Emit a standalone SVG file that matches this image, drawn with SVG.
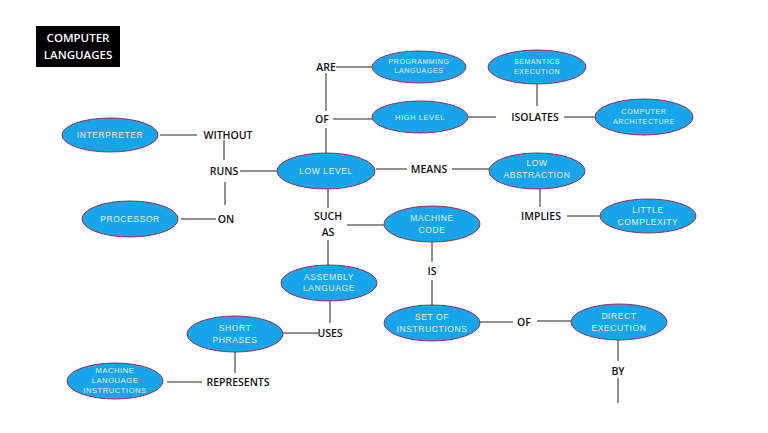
<svg xmlns="http://www.w3.org/2000/svg" width="768" height="433" viewBox="0 0 768 433">
<style>
.n ellipse{fill:#16a5ea;stroke:#9a3050;stroke-width:1}
.n text{font-family:"Liberation Sans",Arial,sans-serif;font-size:7.5px;fill:#e8f0ff;text-anchor:middle;letter-spacing:0.6px}
.w text,text.w{font-family:"Open Sans","Liberation Sans",sans-serif;font-size:10.5px;font-weight:600;fill:#111;text-anchor:middle}
#edges line{stroke:#222;stroke-width:1}
</style>
<rect width="768" height="433" fill="#fff"/>
<g id="title">
<rect x="36" y="26" width="84" height="41" fill="#000"/>
<text x="78" y="42" font-family="'Open Sans','Liberation Sans',sans-serif" font-size="11.5" font-weight="600" fill="#fff" text-anchor="middle">COMPUTER</text>
<text x="78" y="59" font-family="'Open Sans','Liberation Sans',sans-serif" font-size="11.5" font-weight="600" fill="#fff" text-anchor="middle">LANGUAGES</text>
</g>
<g id="edges">
<line x1="336" y1="67" x2="372" y2="67"/>
<line x1="326" y1="73" x2="326" y2="111"/>
<line x1="333" y1="119" x2="372" y2="119"/>
<line x1="326" y1="128" x2="326" y2="153"/>
<line x1="468" y1="117" x2="496" y2="117"/>
<line x1="537" y1="84" x2="537" y2="106"/>
<line x1="564" y1="117" x2="595" y2="117"/>
<line x1="160" y1="135" x2="197" y2="135"/>
<line x1="224" y1="140" x2="224" y2="160"/>
<line x1="240" y1="171" x2="277" y2="171"/>
<line x1="225" y1="182" x2="225" y2="205"/>
<line x1="181" y1="219" x2="216" y2="219"/>
<line x1="376" y1="169" x2="407" y2="169"/>
<line x1="452" y1="169" x2="489" y2="169"/>
<line x1="540" y1="189" x2="540" y2="207"/>
<line x1="567" y1="216" x2="600" y2="216"/>
<line x1="328" y1="189" x2="328" y2="208"/>
<line x1="347" y1="225" x2="384" y2="225"/>
<line x1="328" y1="240" x2="328" y2="265"/>
<line x1="432" y1="242" x2="432" y2="262"/>
<line x1="432" y1="280" x2="432" y2="305"/>
<line x1="330" y1="301" x2="330" y2="323"/>
<line x1="283" y1="333" x2="318" y2="333"/>
<line x1="235" y1="352" x2="235" y2="373"/>
<line x1="167" y1="382" x2="202" y2="382"/>
<line x1="480" y1="322" x2="513" y2="322"/>
<line x1="537" y1="321" x2="571" y2="321"/>
<line x1="618" y1="340" x2="618" y2="361"/>
<line x1="618" y1="378" x2="618" y2="403"/>
</g>
<g id="programming-languages" class="n"><ellipse cx="419" cy="67" rx="47" ry="16"/><text x="419" y="64" style="font-size:7px">PROGRAMMING</text><text x="419" y="73" style="font-size:7px">LANGUAGES</text></g>
<g id="high-level" class="n"><ellipse cx="420" cy="117" rx="48" ry="16"/><text x="420" y="120">HIGH LEVEL</text></g>
<g id="semantics-execution" class="n"><ellipse cx="537" cy="67" rx="49" ry="17"/><text x="537" y="64" style="font-size:7px">SEMANTICS</text><text x="537" y="74" style="font-size:7px">EXECUTION</text></g>
<g id="computer-architecture" class="n"><ellipse cx="644" cy="117" rx="49" ry="18"/><text x="644" y="114" style="font-size:7px">COMPUTER</text><text x="644" y="124" style="font-size:7px">ARCHITECTURE</text></g>
<g id="interpreter" class="n"><ellipse cx="110" cy="135" rx="48" ry="17"/><text x="110" y="138" style="font-size:8.5px">INTERPRETER</text></g>
<g id="processor" class="n"><ellipse cx="130" cy="219" rx="48" ry="18"/><text x="130" y="222" style="font-size:8.5px">PROCESSOR</text></g>
<g id="low-level" class="n"><ellipse cx="326" cy="171" rx="49" ry="18"/><text x="326" y="174" style="font-size:8.5px">LOW LEVEL</text></g>
<g id="low-abstraction" class="n"><ellipse cx="537" cy="171" rx="48" ry="18"/><text x="537" y="166" style="font-size:8.5px">LOW</text><text x="537" y="178" style="font-size:8.5px">ABSTRACTION</text></g>
<g id="machine-code" class="n"><ellipse cx="432" cy="224" rx="48" ry="18"/><text x="432" y="221" style="font-size:8.5px">MACHINE</text><text x="432" y="233" style="font-size:8.5px">CODE</text></g>
<g id="little-complexity" class="n"><ellipse cx="648" cy="216" rx="48" ry="17"/><text x="648" y="213" style="font-size:8.5px">LITTLE</text><text x="648" y="225" style="font-size:8.5px">COMPLEXITY</text></g>
<g id="assembly-language" class="n"><ellipse cx="329" cy="283" rx="48" ry="18"/><text x="329" y="280" style="font-size:8.5px">ASSEMBLY</text><text x="329" y="291" style="font-size:8.5px">LANGUAGE</text></g>
<g id="short-phrases" class="n"><ellipse cx="235" cy="334" rx="48" ry="18"/><text x="235" y="331" style="font-size:8.5px">SHORT</text><text x="235" y="343" style="font-size:8.5px">PHRASES</text></g>
<g id="set-of-instructions" class="n"><ellipse cx="432" cy="323" rx="48" ry="18"/><text x="432" y="320" style="font-size:8.5px">SET OF</text><text x="432" y="332" style="font-size:8.5px">INSTRUCTIONS</text></g>
<g id="direct-execution" class="n"><ellipse cx="619" cy="322" rx="48" ry="18"/><text x="619" y="319" style="font-size:8.5px">DIRECT</text><text x="619" y="331" style="font-size:8.5px">EXECUTION</text></g>
<g id="machine-language-instructions" class="n"><ellipse cx="115" cy="381" rx="48" ry="18"/><text x="115" y="373" style="font-size:7.5px">MACHINE</text><text x="115" y="383" style="font-size:7.5px">LANGUAGE</text><text x="115" y="393" style="font-size:7.5px">INSTRUCTIONS</text></g>
<g id="links" class="w">
<text x="326" y="71">ARE</text>
<text x="322" y="123">OF</text>
<text x="535" y="121">ISOLATES</text>
<text x="228" y="139">WITHOUT</text>
<text x="224" y="175">RUNS</text>
<text x="226" y="223">ON</text>
<text x="429" y="173">MEANS</text>
<text x="541" y="220">IMPLIES</text>
<text x="328" y="220">SUCH</text>
<text x="328" y="236">AS</text>
<text x="432" y="275">IS</text>
<text x="330" y="337">USES</text>
<text x="238" y="386">REPRESENTS</text>
<text x="524" y="326">OF</text>
<text x="618" y="375">BY</text>
</g>
</svg>
